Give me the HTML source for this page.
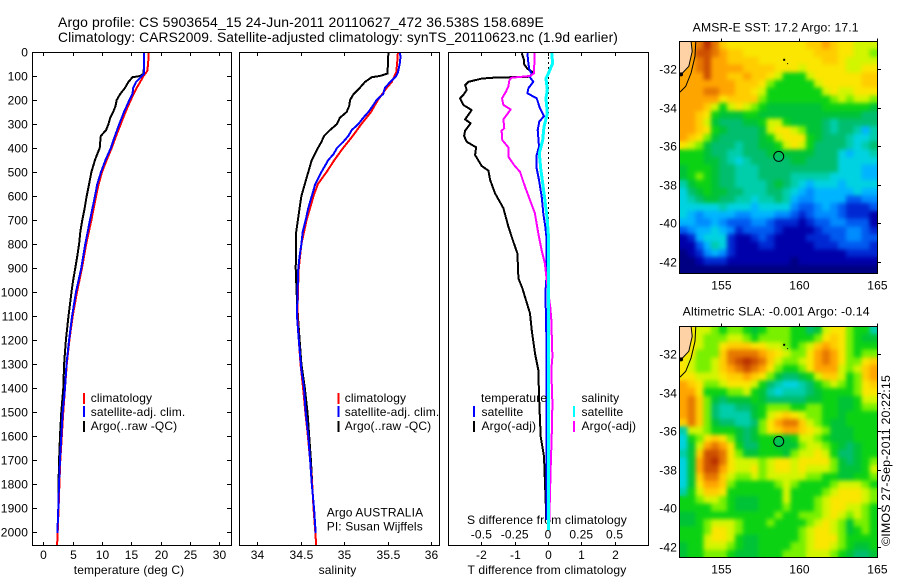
<!DOCTYPE html>
<html lang="en">
<head>
<meta charset="utf-8">
<title>Argo profile chart</title>
<style>
html,body{margin:0;padding:0;background:#fff;}
svg{display:block;font-family:"Liberation Sans",sans-serif;font-size:12px;fill:#000;letter-spacing:0.13px;}
</style>
</head>
<body>
<svg id="chart" width="900" height="580" viewBox="0 0 900 580" xmlns="http://www.w3.org/2000/svg">
<defs>
<filter id="cellBlur" x="-5%" y="-5%" width="110%" height="110%" color-interpolation-filters="sRGB"><feGaussianBlur stdDeviation="2.2"/></filter>
</defs>
<rect x="0" y="0" width="900" height="580" fill="#fff"/>
<text x="58" y="27" font-size="14" textLength="486" lengthAdjust="spacingAndGlyphs">Argo profile: CS 5903654_15 24-Jun-2011 20110627_472 36.538S 158.689E</text>
<text x="58" y="42" font-size="14" textLength="560" lengthAdjust="spacingAndGlyphs">Climatology: CARS2009. Satellite-adjusted climatology: synTS_20110623.nc (1.9d earlier)</text>
<text x="129" y="574" text-anchor="middle">temperature (deg C)</text>
<text x="337.5" y="574" text-anchor="middle">salinity</text>
<text x="547" y="574" text-anchor="middle" textLength="159" lengthAdjust="spacingAndGlyphs">T difference from climatology</text>
<text x="547" y="524" text-anchor="middle" textLength="160" lengthAdjust="spacingAndGlyphs">S difference from climatology</text>
<text x="326.7" y="516.5">Argo AUSTRALIA</text>
<text x="326.7" y="530.5">PI: Susan Wijffels</text>
<text x="692.7" y="31.5" textLength="166" lengthAdjust="spacingAndGlyphs">AMSR-E SST: 17.2  Argo: 17.1</text>
<text x="682.7" y="315.5" textLength="187" lengthAdjust="spacingAndGlyphs">Altimetric SLA: -0.001  Argo: -0.14</text>
<text transform="translate(890,546) rotate(-90)" textLength="171" lengthAdjust="spacingAndGlyphs">©IMOS 27-Sep-2011 20:22:15</text>
</svg>
<script>
// ---- Profile data ----
const depthTicks = [0,100,200,300,400,500,600,700,800,900,1000,1100,1200,1300,1400,1500,1600,1700,1800,1900,2000];
const tempTicks = [0,5,10,15,20,25,30];
const salTicks = [34,34.5,35,35.5,36];
const salTickLabels = ["34","34.5","35","35.5","36"];
const tDiffTicks = [-2,-1,0,1,2];
const tDiffTickLabels = ["-2","-1","0","1","2"];
const sDiffTicks = [-0.5,-0.25,0,0.25,0.5];
const sDiffTickLabels = ["-0.5","-0.25","0","0.25","0.5"];
const lonTicks = [155,160,165];
const latTicks = [-32,-34,-36,-38,-40,-42];

const tempArgoDepth = [0,90,100,105,125,150,175,200,225,250,275,300,325,350,375,400,425,450,500,550,600,650,700,750,800,850,900,950,1000,1100,1200,1300,1400,1500,1600,1700,1837];
const tempArgo = [17.16,17.1,16.5,15.2,14.5,13.9,13.1,12.5,12.3,11.9,11.4,11.1,10.7,9.8,9.7,9.6,9.2,8.8,8.2,7.8,7.4,7.05,6.65,6.3,6.1,5.8,5.45,5.1,4.8,4.3,3.85,3.55,3.4,3.07,2.85,2.7,2.55];
const tempSatDepth = [0,90,100,125,150,175,200,250,300,350,400,450,500,550,600,700,800,900,1000,1100,1200,1300,1400,1500,1600,1700,1800,1900,2005];
const tempSat = [17.16,17.16,16.8,15.8,15.3,15.2,14.66,13.75,12.95,12.2,11.5,10.6,9.83,9.2,8.8,7.95,7.16,6.48,5.57,4.9,4.4,3.95,3.7,3.3,3.07,2.84,2.67,2.56,2.4];
const tempClimDepth = [0,50,80,100,125,150,200,250,300,350,400,450,500,550,600,700,800,900,1000,1100,1200,1300,1400,1500,1600,1700,1800,1900,2000,2055];
const tempClim = [17.95,17.85,17.7,17.05,16.5,15.9,14.9,14,13.2,12.4,11.65,10.8,10,9.43,9,8.2,7.3,6.6,5.74,5,4.45,4,3.7,3.4,3.15,2.9,2.75,2.6,2.45,2.35];

const salArgoDepth = [0,90,100,105,125,150,175,200,225,250,275,300,325,350,375,400,450,500,550,600,650,700,750,800,900,1000,1100,1200,1300,1400,1500,1600,1700,1837];
const salArgo = [35.51,35.5,35.41,35.32,35.24,35.18,35.11,35.07,35.06,35.03,34.95,34.92,34.84,34.77,34.74,34.7,34.63,34.59,34.55,34.51,34.49,34.47,34.45,34.45,34.445,34.455,34.47,34.49,34.51,34.55,34.58,34.6,34.62,34.64];
const salSatDepth = [0,20,50,85,100,125,150,175,200,225,250,275,300,325,350,375,400,425,450,475,500,550,600,650,700,750,800,850,900,1000,1100,1200,1325,1400,1500,1600,1700,1800,1900,2005];
const salSat = [35.64,35.65,35.64,35.62,35.6,35.53,35.47,35.45,35.375,35.33,35.28,35.22,35.165,35.09,35.05,34.99,34.92,34.88,34.82,34.78,34.74,34.67,34.63,34.59,34.56,34.525,34.51,34.49,34.475,34.465,34.46,34.48,34.51,34.54,34.56,34.59,34.61,34.63,34.655,34.675];
const salClimDepth = [0,50,85,100,125,150,200,250,300,350,400,450,500,550,600,650,700,750,800,900,1000,1100,1200,1300,1400,1500,1600,1700,1800,1900,2000,2055];
const salClim = [35.62,35.61,35.6,35.58,35.55,35.49,35.39,35.31,35.2,35.1,34.99,34.89,34.8,34.7,34.65,34.61,34.57,34.54,34.51,34.48,34.47,34.465,34.48,34.5,34.53,34.555,34.585,34.61,34.635,34.65,34.67,34.68];

const dtArgoDepth = [5,33,50,70,85,103,107,111,124,138,158,179,193,221,242,281,297,328,350,374,397,429,475,494,533,589,651,728,783,839,943,985,1089,1158,1256,1325,1464,1603,1686,1908,1950];
const dtArgo = [-0.79,-0.72,-0.72,-0.62,-0.44,-0.54,-1.64,-1.99,-2.39,-2.49,-2.44,-2.54,-2.64,-2.54,-2.29,-2.49,-2.32,-2.49,-2.52,-2.44,-2.16,-2.19,-1.99,-1.79,-1.74,-1.59,-1.34,-1.19,-1.06,-0.92,-0.89,-0.77,-0.54,-0.49,-0.39,-0.29,-0.26,-0.22,-0.12,-0.06,-0.06];
const dtSatDepth = [5,47,75,89,106,124,151,172,193,235,267,290,325,394,429,485,533,603,672,728,783,922,985,1054,1256,1950];
const dtSat = [-0.62,-0.59,-0.56,-0.49,-0.54,-0.44,-0.59,-0.62,-0.34,-0.24,-0.12,-0.26,-0.31,-0.27,-0.34,-0.34,-0.27,-0.19,-0.14,-0.08,-0.04,-0.04,-0.07,-0.07,-0.04,-0.04];
const dsArgoDepth = [5,47,89,100,107,117,144,165,193,221,239,281,318,328,367,397,436,471,499,561,617,672,756,825,881,950,1068,1116,1270,1326,1464,1603,1728,1839,1950];
const dsArgo = [-0.103,-0.103,-0.105,-0.135,-0.273,-0.29,-0.298,-0.315,-0.345,-0.335,-0.28,-0.335,-0.328,-0.348,-0.343,-0.298,-0.298,-0.255,-0.21,-0.173,-0.135,-0.098,-0.073,-0.048,-0.023,-0.01,0.018,0.025,0.033,0.025,0.033,0.028,0.02,0.015,0.01];
const dsSatDepth = [5,47,89,110,158,193,256,311,367,422,485,547,617,700,783,985,1992];
const dsSat = [0.028,0.035,0.003,-0.015,-0.005,-0.015,-0.005,-0.03,-0.04,-0.065,-0.055,-0.04,-0.023,-0.005,0.005,0.005,0.003];

// ---- Map data: colour level per cell, 25 columns x 30 rows ----
const sstGrid = [
[15,15,16,18,16,14,13,13,13,13,13,13,13,13,13,13,14,14,15,14,13,13,12,12,12],
[15,15,17,17,16,15,14,14,13,13,13,13,13,13,13,13,13,14,14,14,13,13,12,12,11],
[15,15,16,17,15,15,14,14,14,14,13,13,13,13,13,13,13,13,14,14,13,12,12,12,12],
[15,15,16,17,15,15,15,15,14,14,14,14,13,13,13,12,13,13,13,13,13,12,12,13,13],
[15,15,15,17,15,15,14,14,15,14,14,13,12,10,10,10,12,13,13,13,13,13,13,14,14],
[15,15,15,15,15,15,15,14,14,14,13,11,10,10,10,10,10,12,13,13,13,13,13,14,14],
[15,15,15,16,16,15,15,14,14,13,12,10,10,10,10,10,10,10,12,13,12,12,13,13,13],
[15,15,15,15,15,13,14,14,14,14,11,10,10,10,10,10,10,10,10,11,12,11,12,12,11],
[15,15,15,14,12,10,12,13,12,11,10,9,9,9,9,9,9,9,10,10,10,10,10,10,9],
[15,15,14,13,10,9,9,9,10,10,9,9,9,9,9,9,9,9,9,9,9,9,9,8,8],
[15,15,14,12,9,8,8,8,9,9,10,12,12,10,9,9,9,9,8,7,8,8,8,8,8],
[15,15,14,13,10,9,8,8,8,8,9,12,13,13,12,11,9,9,8,7,8,8,7,5,7],
[15,14,13,11,9,8,8,8,8,8,9,10,12,13,13,13,10,9,8,8,8,7,6,6,7],
[13,12,11,9,8,8,8,7,8,8,9,9,10,12,13,12,10,8,8,8,8,7,6,7,8],
[10,10,10,9,8,8,7,7,8,8,8,9,9,9,9,9,9,8,8,8,6,5,6,6,7],
[10,10,10,9,9,8,7,6,7,8,8,8,8,8,9,9,8,8,8,8,6,6,6,6,6],
[9,10,10,10,9,8,8,7,7,7,8,8,8,8,8,8,8,8,8,8,6,6,6,5,5],
[9,10,11,10,9,8,8,7,7,7,8,8,8,8,7,7,7,7,7,6,6,6,6,5,5],
[7,9,10,10,9,8,8,7,7,7,7,8,9,8,7,6,5,6,6,6,5,6,6,6,6],
[6,8,9,10,9,9,8,8,7,7,7,8,8,7,6,5,4,5,5,5,5,5,6,5,5],
[6,7,8,9,9,8,8,7,7,6,7,7,8,7,5,4,4,5,5,5,5,3,3,4,4],
[6,6,6,6,6,7,6,6,6,5,6,6,6,6,4,3,3,4,5,4,3,2,2,2,3],
[6,5,4,5,5,5,5,4,4,5,5,5,4,4,3,2,3,4,4,4,3,2,2,2,1],
[5,5,4,4,5,4,3,3,3,4,4,3,2,2,2,1,2,3,3,4,4,3,3,3,1],
[3,4,5,5,6,5,4,2,3,3,3,3,2,1,1,1,1,2,3,3,3,4,4,3,2],
[1,2,5,6,6,6,2,1,1,2,3,2,1,1,1,1,2,2,2,3,3,4,4,3,3],
[1,1,3,5,7,6,2,1,1,1,2,2,1,1,1,1,1,2,2,2,3,3,3,3,2],
[0,1,2,4,5,4,2,1,1,1,1,1,1,1,1,1,1,1,1,1,1,2,2,2,2],
[0,0,1,2,2,2,1,1,1,1,1,1,1,1,0,1,1,1,1,1,1,1,1,1,1],
[0,0,0,0,0,0,0,0,0,0,0,0,0,0,0,0,0,0,0,0,0,0,0,0,0]
];
const slaGrid = [
[13,13,12,12,11,10,11,11,10,9,10,11,11,11,10,10,8,9,12,13,13,11,10,10,7],
[13,13,12,11,11,11,12,12,11,10,11,11,11,11,10,10,10,11,13,14,13,11,10,9,9],
[13,13,12,11,11,13,14,14,14,13,13,12,12,11,10,11,12,14,15,14,13,11,10,10,10],
[13,13,11,11,11,14,16,16,16,16,15,14,13,12,11,11,13,15,16,15,13,11,10,11,11],
[13,12,11,11,12,14,16,17,18,17,16,14,12,11,11,12,13,15,16,15,13,11,11,13,14],
[13,12,11,11,12,14,15,16,17,16,15,13,11,10,10,11,13,15,15,15,12,11,12,14,15],
[13,13,12,12,12,13,14,14,15,14,13,11,9,8,8,9,10,12,14,14,12,10,11,14,15],
[15,14,13,11,11,12,13,13,13,12,10,8,7,6,6,7,8,10,11,12,11,10,11,13,14],
[15,15,13,10,10,10,11,11,12,10,9,7,6,7,7,7,8,9,10,10,10,10,11,13,13],
[15,16,14,11,9,8,9,9,9,10,9,8,8,8,8,8,9,9,10,10,9,9,10,12,12],
[15,16,14,11,8,7,7,8,8,9,10,11,11,11,10,10,11,11,10,10,9,9,10,11,11],
[15,16,14,11,8,7,7,7,7,9,10,12,13,14,13,12,11,11,10,10,9,10,10,10,10],
[14,16,14,11,9,8,8,7,7,8,11,13,15,16,16,14,12,11,10,9,9,10,10,10,10],
[7,12,12,11,10,10,10,9,8,9,11,13,14,15,15,14,13,12,11,9,9,9,10,10,10],
[6,10,11,13,14,13,11,9,8,9,10,10,10,9,10,12,12,11,10,9,9,9,10,10,10],
[6,9,12,15,16,15,13,10,8,8,10,10,9,9,9,11,12,12,11,10,9,8,9,10,10],
[7,9,14,17,17,16,13,11,9,9,10,10,10,9,11,12,12,13,12,10,8,8,9,10,10],
[6,9,15,17,18,16,13,12,12,12,11,12,13,13,12,13,13,13,13,11,9,8,9,10,11],
[6,9,15,17,17,15,13,12,12,13,11,12,13,13,12,13,12,12,12,11,9,9,9,10,12],
[6,9,14,16,16,14,12,11,11,12,11,12,12,12,12,12,11,11,10,10,9,9,10,10,11],
[6,9,13,15,15,14,11,10,10,10,10,10,11,12,11,10,10,10,10,11,12,12,12,11,10],
[7,10,12,14,14,13,10,10,10,10,10,10,10,12,10,10,10,10,11,12,13,13,13,12,11],
[10,10,11,12,12,11,10,9,9,9,10,10,10,12,10,10,10,11,12,13,13,13,13,12,11],
[10,10,10,10,11,11,10,9,9,9,10,10,10,11,10,10,10,11,12,13,13,12,12,11,10],
[9,9,10,10,10,10,10,10,10,10,10,10,11,10,10,11,11,11,12,13,12,11,12,11,10],
[9,9,10,11,12,12,12,11,10,10,10,11,10,10,10,10,11,12,13,12,11,9,11,11,10],
[10,10,10,11,13,13,12,11,10,10,10,10,10,10,10,11,12,13,13,12,11,9,10,11,10],
[10,10,10,12,13,13,12,10,9,9,10,10,10,10,10,11,12,13,13,13,11,10,10,10,10],
[9,10,10,12,12,12,11,10,9,9,10,10,10,10,11,11,12,13,13,12,11,10,9,9,10],
[9,10,10,11,11,11,10,9,9,9,10,10,10,11,11,11,12,12,12,11,10,9,8,8,9]
];
const landLon = [152.3,153.05,153.12,152.9,152.5,152.3];
const landLat = [-30.57,-30.57,-31.08,-31.86,-32.2,-32.38];
const coastLon = [153.35,153.3,153.05,152.7,152.33];
const coastLat = [-30.57,-31.34,-32.2,-32.9,-33.2];
const floatLon = 158.689;
const floatLat = -36.538;
const sstFloatLevel = 8;
const slaFloatLevel = 8;

// ---- Rendering ----
const palette = ["#000082","#0000aa","#0028d2","#005af0","#008cff","#00b4ff","#00d2e1","#00cdaa","#00be6e","#00c337","#0cd214","#78f000","#d2f500","#fae600","#ffcd00","#ffa500","#e67800","#cd5000","#b83000"];
const NS = "http://www.w3.org/2000/svg";
const svg = document.getElementById("chart");
function mk(tag, attrs) {
  const n = document.createElementNS(NS, tag);
  for (const k in attrs) n.setAttribute(k, attrs[k]);
  svg.appendChild(n);
  return n;
}
function label(str, x, y, anchor, name) {
  const t = mk("text", {x: x, y: y, "text-anchor": anchor});
  t.textContent = str;
  
  
  return t;
}
function tick(x1, y1, x2, y2, name) {
  const l = mk("line", {x1: x1, y1: y1, x2: x2, y2: y2, stroke: "#000", "stroke-width": 1, "shape-rendering": "crispEdges"});
  
  
}
function frame(x, y, w, h, name) {
  const r = mk("rect", {x: x, y: y, width: w, height: h, fill: "none", stroke: "#000", "stroke-width": 1, "shape-rendering": "crispEdges"});
  
  
}
function series(xs, ds, xf, color, width, name) {
  const pts = xs.map(function (v, i) { return xf(v).toFixed(1) + "," + yDepth(ds[i]).toFixed(1); }).join(" ");
  const p = mk("polyline", {points: pts, fill: "none", stroke: color, "stroke-width": width, "shape-rendering": "crispEdges", "stroke-linejoin": "round"});
  
  
}
function legendBar(x, y, color, name) {
  const r = mk("rect", {x: x, y: y, width: 2, height: 11, fill: color});
  
  
}

const yTop = 52, yBottom = 545;
function yDepth(d) { return 52 + 0.24 * d; }
function xTemp(t) { return 43.3 + 5.87 * t; }
function xSal(s) { return 257 + 87 * (s - 34); }
function xDT(t) { return 548 + 33.3 * t; }
function xDS(s) { return 548 + 133.2 * s; }

// series, back to front
series(tempArgo, tempArgoDepth, xTemp, "#000", 2, "temperature-argo-line");
series(tempClim, tempClimDepth, xTemp, "#f00", 2, "temperature-climatology-line");
series(tempSat, tempSatDepth, xTemp, "#00f", 2, "temperature-satellite-line");
series(salArgo, salArgoDepth, xSal, "#000", 2, "salinity-argo-line");
series(salClim, salClimDepth, xSal, "#f00", 2, "salinity-climatology-line");
series(salSat, salSatDepth, xSal, "#00f", 2, "salinity-satellite-line");

const zeroLine = mk("line", {x1: xDT(0) + 0.5, y1: yTop, x2: xDT(0) + 0.5, y2: yDepth(1000), stroke: "#000", "stroke-width": 1, "stroke-dasharray": "2 3", "shape-rendering": "crispEdges"});


series(dtArgo, dtArgoDepth, xDT, "#000", 2, "t-difference-argo-line");
series(dtSat, dtSatDepth, xDT, "#00f", 2, "t-difference-satellite-line");
series(dsArgo, dsArgoDepth, xDS, "#f0f", 2, "s-difference-argo-line");
series(dsSat, dsSatDepth, xDS, "#0ff", 3, "s-difference-satellite-line");

// panel frames
frame(32.5, 52.5, 199, 493, "temperature-panel-frame");
frame(239.5, 52.5, 200, 493, "salinity-panel-frame");
frame(448.5, 52.5, 200, 493, "difference-panel-frame");

// depth ticks
depthTicks.forEach(function (d) {
  const y = Math.round(yDepth(d)) + 0.5;
  tick(33, y, 37, y, "depth-tick-left");
  tick(227, y, 231, y, "depth-tick-right");
  label(String(d), 28, y + 4, "end", "depth-tick-label");
});
// x ticks
tempTicks.forEach(function (t) {
  const x = Math.round(xTemp(t)) + 0.5;
  tick(x, 53, x, 56, "temperature-tick-top");
  tick(x, 542, x, 545, "temperature-tick-bottom");
  label(String(t), x, 559, "middle", "temperature-tick-label");
});
salTicks.forEach(function (s, i) {
  const x = Math.round(xSal(s)) + 0.5;
  tick(x, 53, x, 56, "salinity-tick-top");
  tick(x, 542, x, 545, "salinity-tick-bottom");
  label(salTickLabels[i], x, 559, "middle", "salinity-tick-label");
});
tDiffTicks.forEach(function (t, i) {
  const x = Math.round(xDT(t)) + 0.5;
  tick(x, 53, x, 56, "t-difference-tick-top");
  tick(x, 542, x, 545, "t-difference-tick-bottom");
  label(tDiffTickLabels[i], x, 559, "middle", "t-difference-tick-label");
});
sDiffTicks.forEach(function (s, i) {
  label(sDiffTickLabels[i], xDS(s), 538.5, "middle", "s-difference-tick-label");
});

// legends
legendBar(83, 393, "#f00", "legend-bar-temperature-climatology");
legendBar(83, 406, "#00f", "legend-bar-temperature-satellite");
legendBar(83, 421, "#000", "legend-bar-temperature-argo");
label("climatology", 90.7, 402, "start", "legend-temperature-climatology");
label("satellite-adj. clim.", 90.7, 416, "start", "legend-temperature-satellite");
label("Argo(..raw -QC)", 90.7, 430, "start", "legend-temperature-argo");
legendBar(337.5, 393, "#f00", "legend-bar-salinity-climatology");
legendBar(337.5, 406, "#00f", "legend-bar-salinity-satellite");
legendBar(337.5, 421, "#000", "legend-bar-salinity-argo");
label("climatology", 344.7, 402, "start", "legend-salinity-climatology");
label("satellite-adj. clim.", 344.7, 416, "start", "legend-salinity-satellite");
label("Argo(..raw -QC)", 344.7, 430, "start", "legend-salinity-argo");
label("temperature", 481, 402, "start", "legend-t-difference-header");
label("satellite", 481.5, 416, "start", "legend-t-difference-satellite");
label("Argo(-adj)", 481.5, 430, "start", "legend-t-difference-argo");
legendBar(473, 406, "#00f", "legend-bar-t-difference-satellite");
legendBar(473, 421, "#000", "legend-bar-t-difference-argo");
label("salinity", 581.5, 402, "start", "legend-s-difference-header");
label("satellite", 581.5, 416, "start", "legend-s-difference-satellite");
label("Argo(-adj)", 581.5, 430, "start", "legend-s-difference-argo");
legendBar(573, 406, "#0ff", "legend-bar-s-difference-satellite");
legendBar(573, 421, "#f0f", "legend-bar-s-difference-argo");

// maps
const lonLeft = 152.3, lonStep = 0.51, latTop = -30.57, latStep = 0.4;
function xLon(lon) { return 679.5 + (lon - lonLeft) * 15.53; }
function drawMap(grid, top, bottom, floatLevel, prefix) {
  function yLat(lat) { return top + (latTop - lat) * 19.25; }
  const clip = mk("clipPath", {id: prefix + "-clip"});
  const clipRect = document.createElementNS(NS, "rect");
  clipRect.setAttribute("x", 679.5);
  clipRect.setAttribute("y", top);
  clipRect.setAttribute("width", 198);
  clipRect.setAttribute("height", bottom - top);
  clip.appendChild(clipRect);
  const cells = mk("g", {id: prefix + "-cells"});
  
  
  grid.forEach(function (row, r) {
    row.forEach(function (level, c) {
      const x = xLon(lonLeft + c * lonStep), y = yLat(latTop - r * latStep);
      const cell = document.createElementNS(NS, "rect");
      cell.setAttribute("x", x.toFixed(1));
      cell.setAttribute("y", y.toFixed(1));
      cell.setAttribute("width", (lonStep * 15.53 + 0.6).toFixed(1));
      cell.setAttribute("height", Math.min(latStep * 19.25 + 0.6, bottom - y).toFixed(1));
      cell.setAttribute("fill", palette[level]);
      cell.setAttribute("shape-rendering", "crispEdges");
      
      
      cells.appendChild(cell);
    });
  });
  const holder = mk("g", {"clip-path": "url(#" + prefix + "-clip)"});
  
  
  const smooth = document.createElementNS(NS, "use");
  smooth.setAttribute("href", "#" + prefix + "-cells");
  smooth.setAttribute("filter", "url(#cellBlur)");
  
  
  holder.appendChild(smooth);
  const land = mk("polygon", {points: landLon.map(function (v, i) { return xLon(v).toFixed(1) + "," + yLat(landLat[i]).toFixed(1); }).join(" "), fill: "#ffd2a5", stroke: "#000", "stroke-width": 1});
  
  
  const coast = mk("polyline", {points: coastLon.map(function (v, i) { return xLon(v).toFixed(1) + "," + yLat(coastLat[i]).toFixed(1); }).join(" "), fill: "none", stroke: "#000", "stroke-width": 1});
  
  
  const blob = mk("circle", {cx: xLon(152.4), cy: yLat(-32.28), r: 2, fill: "#000"});
  
  
  const isle1 = mk("rect", {x: xLon(159.04) - 1, y: yLat(-31.52) - 1, width: 2, height: 2, fill: "#000"});
  
  
  const isle2 = mk("rect", {x: xLon(159.26) - 0.5, y: yLat(-31.72) - 0.5, width: 1, height: 1, fill: "#000"});
  
  
  frame(679.5, top, 198, bottom - top, prefix + "-frame");
  const marker = mk("circle", {cx: xLon(floatLon), cy: yLat(floatLat), r: 5, fill: palette[floatLevel], "fill-opacity": 0.6, stroke: "#000", "stroke-width": 1});
  
  
  lonTicks.forEach(function (lon) {
    const x = Math.round(xLon(lon)) + 0.5;
    tick(x, top - 3, x, top, prefix + "-lon-tick");
    label(String(lon), x, bottom + 16, "middle", prefix + "-lon-label");
  });
  latTicks.forEach(function (lat) {
    const y = Math.round(yLat(lat)) + 0.5;
    tick(878, y, 881, y, prefix + "-lat-tick");
    label(String(lat), 677, y + 4, "end", prefix + "-lat-label");
  });
}
drawMap(sstGrid, 41.5, 273.5, sstFloatLevel, "sst-map");
drawMap(slaGrid, 326.5, 557.5, slaFloatLevel, "sla-map");
</script>
</body>
</html>
